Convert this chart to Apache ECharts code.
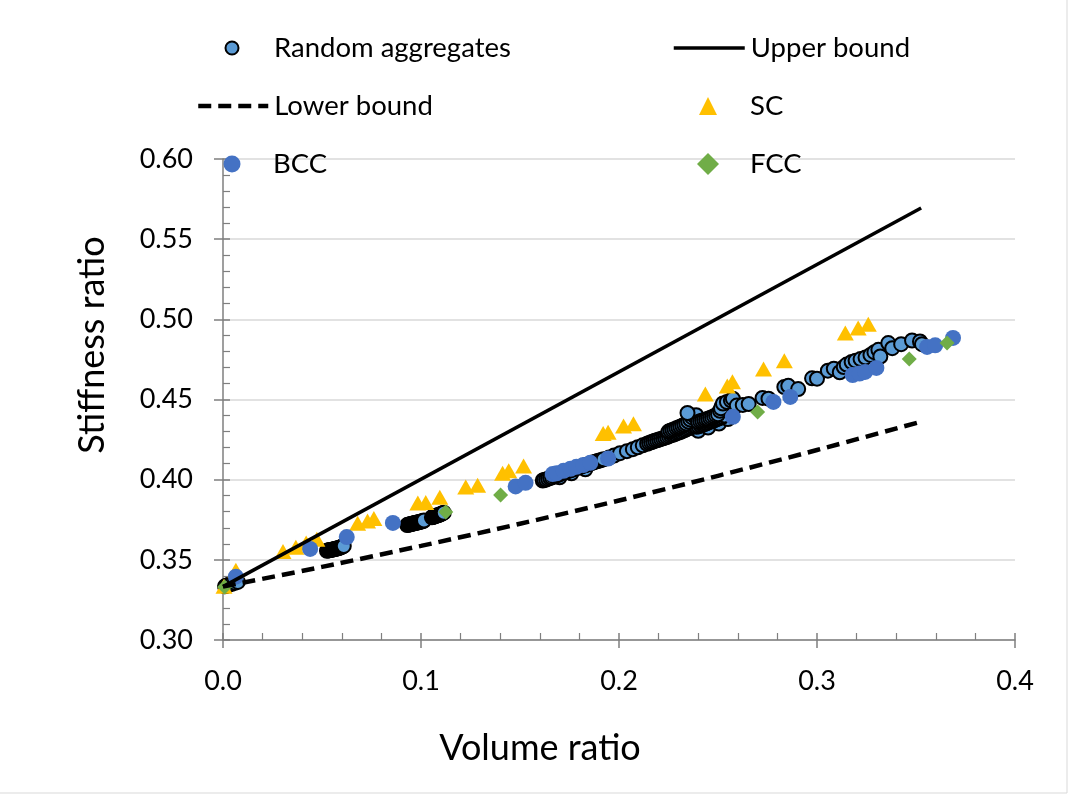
<!DOCTYPE html>
<html><head><meta charset="utf-8">
<script src="https://cdn.jsdelivr.net/npm/echarts@6/dist/echarts.min.js"></script>
<style>html,body{margin:0;padding:0;background:#fff}#c{width:1070px;height:797px}</style>
</head><body><div id="c"></div>
<script>
// ---- data ----
const randomAggregates = [
  // near origin
  [0.001,0.3335],[0.002,0.334],[0.003,0.3345],[0.0045,0.335],[0.006,0.3357],[0.0075,0.3362],
  // cluster ~0.055
  [0.0525,0.3556],[0.0530,0.3558],[0.0535,0.3559],[0.0540,0.3561],[0.0545,0.3562],[0.0550,0.3563],[0.0555,0.3565],
  [0.0560,0.3566],[0.0565,0.3567],[0.0570,0.3569],[0.0575,0.3570],[0.0580,0.3572],[0.0585,0.3574],[0.0590,0.3576],
  [0.0595,0.3578],[0.0600,0.3581],[0.0605,0.3584],[0.0610,0.3587],
  // cluster ~0.1
  [0.0930,0.3717],[0.0935,0.3719],[0.0940,0.3720],[0.0945,0.3722],[0.0950,0.3723],[0.0955,0.3725],[0.0960,0.3726],
  [0.0965,0.3728],[0.0970,0.3729],[0.0975,0.3731],[0.0980,0.3732],[0.0985,0.3734],[0.0990,0.3735],[0.0995,0.3737],
  [0.1000,0.3738],[0.1005,0.3740],[0.1010,0.3742],[0.1015,0.3745],
  [0.1055,0.3765],[0.1060,0.3767],[0.1065,0.3770],[0.1070,0.3772],[0.1075,0.3774],[0.1080,0.3776],[0.1085,0.3778],
  [0.1090,0.3780],[0.1095,0.3782],[0.1100,0.3785],[0.1105,0.3788],[0.1110,0.3791],[0.1115,0.3794],
  // main band, lower edge
  [0.170,0.4015],[0.176,0.404],[0.183,0.4065],[0.240,0.4305],[0.245,0.4325],[0.2505,0.435],[0.255,0.4378],
  // main band 0.16-0.19
  [0.1615,0.3995],[0.1622,0.3998],[0.1632,0.4001],[0.1642,0.4006],[0.1652,0.4011],[0.1662,0.4014],[0.1672,0.4020],
  [0.1682,0.4026],[0.1692,0.4029],[0.1702,0.4035],[0.1712,0.4041],[0.1722,0.4044],[0.1732,0.4049],[0.1742,0.4053],
  [0.1752,0.4057],[0.1762,0.4061],[0.1772,0.4066],[0.1782,0.4070],[0.1792,0.4074],[0.1802,0.4079],[0.1812,0.4083],
  [0.1822,0.4087],[0.1832,0.4091],[0.1842,0.4095],[0.1852,0.4100],[0.1862,0.4104],[0.1872,0.4108],[0.1882,0.4112],
  [0.1892,0.4116],[0.1902,0.4119],[0.1912,0.4123],[0.1922,0.4127],
  // 0.195-0.212
  [0.195,0.4138],[0.1975,0.4150],[0.2005,0.4165],[0.204,0.4178],[0.207,0.419],[0.2095,0.4202],[0.212,0.4214],
  // 0.214-0.253
  [0.2142,0.4224],[0.2152,0.4229],[0.2162,0.4233],[0.2172,0.4238],[0.2182,0.4243],[0.2192,0.4246],[0.2202,0.4250],
  [0.2212,0.4254],[0.2222,0.4258],[0.2232,0.4262],[0.2242,0.4266],[0.2252,0.4271],[0.2262,0.4276],[0.2272,0.4280],
  [0.2282,0.4285],[0.2292,0.4290],[0.2302,0.4294],[0.2312,0.4299],[0.2322,0.4304],[0.2332,0.4309],[0.2342,0.4315],
  [0.2352,0.4320],[0.2362,0.4326],[0.2372,0.4331],[0.2382,0.4336],[0.2392,0.4330],[0.2402,0.4333],[0.2412,0.4338],
  [0.2422,0.4342],[0.2432,0.4347],[0.2442,0.4352],[0.2452,0.4357],[0.2462,0.4362],[0.2472,0.4366],[0.2482,0.4371],
  [0.2492,0.4376],[0.2502,0.4381],[0.2512,0.4386],[0.2522,0.4392],[0.2532,0.4400],
  // band, upper edge
  [0.2250,0.4300],[0.2260,0.4305],[0.2270,0.4310],[0.2280,0.4315],[0.2290,0.4320],[0.2300,0.4325],[0.2310,0.4330],
  [0.2320,0.4336],[0.2330,0.4342],[0.2340,0.4350],[0.2350,0.4362],[0.2360,0.4375],[0.2370,0.4388],[0.2380,0.4398],
  [0.2390,0.4402],[0.2400,0.4360],[0.2410,0.4364],[0.2420,0.4368],[0.2430,0.4372],[0.2440,0.4376],[0.2450,0.4380],
  [0.2460,0.4385],[0.2470,0.4390],[0.2480,0.4395],[0.2490,0.4401],[0.2500,0.4408],[0.2510,0.4430],[0.2520,0.4460],
  [0.2346,0.4416],[0.2515,0.4445],[0.2525,0.4475],[0.2545,0.4485],[0.2565,0.4495],[0.2575,0.4505],
  // 0.26-0.36
  [0.2595,0.4462],[0.2625,0.4466],[0.2655,0.4472],[0.2725,0.451],[0.2755,0.4505],[0.2835,0.4578],[0.2855,0.4585],
  [0.2905,0.4565],[0.2975,0.4632],[0.300,0.463],[0.3055,0.468],[0.3085,0.4692],[0.3115,0.467],[0.3135,0.4702],
  [0.315,0.4718],[0.3175,0.4734],[0.3195,0.4742],[0.322,0.4752],[0.3245,0.4762],[0.327,0.4778],[0.329,0.4795],
  [0.331,0.481],[0.332,0.4768],[0.336,0.4852],[0.338,0.482],[0.3425,0.4845],[0.348,0.4868],[0.352,0.4862],[0.353,0.4845]
];
const upperBound = [[0,0.3333],[0.3526,0.5694]];
const lowerBound = [[0,0.3333],[0.05,0.3456],[0.10,0.3587],[0.15,0.3725],[0.20,0.3870],[0.25,0.4024],[0.30,0.4185],[0.3526,0.4362]];
const scData = [
  [0.0005,0.3335],[0.0065,0.3435],[0.0303,0.3552],[0.0368,0.3578],[0.042,0.3605],[0.0474,0.3628],[0.068,0.3728],
  [0.073,0.3742],[0.0762,0.3758],[0.0984,0.3855],[0.1024,0.3858],[0.1095,0.389],[0.1226,0.3955],[0.1286,0.3965],
  [0.1412,0.404],[0.1443,0.4055],[0.1518,0.4085],[0.192,0.4288],[0.1945,0.4295],[0.2023,0.4335],[0.2073,0.4348],
  [0.2436,0.4535],[0.2547,0.4584],[0.2573,0.461],[0.273,0.469],[0.2835,0.4742],[0.3143,0.4915],[0.3208,0.4946],[0.3259,0.497]
];
const bccData = [
  [0.0065,0.3395],[0.044,0.3568],[0.0625,0.3642],[0.0858,0.373],[0.1478,0.3958],[0.1528,0.398],[0.1665,0.4035],
  [0.1685,0.404],[0.172,0.4055],[0.1755,0.4068],[0.1785,0.408],[0.182,0.4091],[0.1855,0.4105],[0.1945,0.4132],
  [0.2575,0.4392],[0.278,0.4485],[0.2865,0.4516],[0.318,0.4653],[0.3215,0.4662],[0.3243,0.4672],[0.330,0.4697],
  [0.3556,0.4828],[0.3597,0.4838],[0.3687,0.4884]
];
const fccData = [[0.0008,0.333],[0.1125,0.3798],[0.1402,0.3905],[0.27,0.4422],[0.3466,0.4753],[0.3657,0.4852]];
const seriesNames = ['Random aggregates','Upper bound','Lower bound','SC','BCC','FCC'];
const xTitle = 'Volume ratio';
const yTitle = 'Stiffness ratio';

// ---- chart ----
const FONT = 'Lato';
const AX = '#7f7f7f';
const chart = echarts.init(document.getElementById('c'), null, {renderer:'canvas'});
const tickFont = {color:'#000', fontSize:27, fontFamily:FONT};
function xAx(main){
  return {type:'value', min:0, max:0.4, interval:0.1, position:'bottom',
    axisLine:{show:main, onZero:false, lineStyle:{color:AX, width:1.5}},
    axisTick:{show:true, inside:!main, length:main?8:7, lineStyle:{color:AX, width:1.5}},
    minorTick:{show:!main, splitNumber:5, length:7, lineStyle:{color:AX, width:1.2}},
    axisLabel: main ? Object.assign({formatter:v=>v.toFixed(1), margin:28}, tickFont) : {show:false},
    splitLine:{show:false}};
}
function yAx(main){
  return {type:'value', min:0.30, max:0.60, interval:0.05, position:'left',
    axisLine:{show:main, onZero:false, lineStyle:{color:AX, width:1.5}},
    axisTick:{show:true, inside:!main, length:main?9:7, lineStyle:{color:AX, width:1.5}},
    minorTick:{show:!main, splitNumber:5, length:7, lineStyle:{color:AX, width:1.2}},
    axisLabel: main ? Object.assign({formatter:v=>v.toFixed(2), margin:30}, tickFont) : {show:false},
    splitLine:{show:main, lineStyle:{color:'#d9d9d9', width:1.5}}};
}
// symbol legend: box of size s centred on cx, text starting at tx
function lgSym(name, cx, cy, s, tx){
  const left = cx - s/2;
  return {data:[name], left:left, top:cy-14, itemWidth:s, itemHeight:s, padding:0, itemGap:0, selectedMode:false,
    textStyle:{color:'#000', fontSize:27.5, fontFamily:FONT, padding:[0,0,0,tx-(left+s+5)]}};
}
function lgLine(name, x0, x1, cy, lw, dash){
  return {data:[name], left:x0, top:cy-14, itemWidth:x1-x0, itemHeight:14, padding:0, itemGap:0, selectedMode:false,
    itemStyle:{opacity:0}, lineStyle:{color:'#000', width:lw, type:dash, opacity:1},
    textStyle:{color:'#000', fontSize:27.5, fontFamily:FONT, padding:[0,0,0,1]}};
}
chart.setOption({
  animation:false,
  backgroundColor:'#fff',
  grid:{left:223, top:159, width:792, height:481},
  xAxis:[xAx(true), xAx(false)],
  yAxis:[yAx(true), yAx(false)],
  legend:[
    lgSym(seriesNames[0], 231, 48, 13, 273),
    lgLine(seriesNames[1], 672, 743, 48, 3.5, 'solid'),
    lgLine(seriesNames[2], 196, 266, 106, 4.5, [13,7]),
    lgSym(seriesNames[3], 708, 106, 18, 750),
    lgSym(seriesNames[4], 232, 164, 17, 273),
    lgSym(seriesNames[5], 708, 164, 22, 750)
  ],
  graphic:[
    {type:'text', x:540, y:748, style:{text:xTitle, fontSize:36, fontFamily:FONT, fill:'#000', textAlign:'center', textVerticalAlign:'middle'}},
    {type:'text', x:92, y:345, rotation:Math.PI/2, style:{text:yTitle, fontSize:36, fontFamily:FONT, fill:'#000', textAlign:'center', textVerticalAlign:'middle'}},
    {type:'rect', silent:true, shape:{x:-1, y:-1, width:1068, height:794}, style:{fill:'none', stroke:'#d9d9d9', lineWidth:1}}
  ],
  series:[
    {name:seriesNames[0], type:'scatter', data:randomAggregates, symbol:'circle', symbolSize:14,
     itemStyle:{color:'#5b9bd5', borderColor:'#000', borderWidth:2, opacity:1}},
    {name:seriesNames[1], type:'line', data:upperBound, showSymbol:false, symbol:'none',
     lineStyle:{color:'#000', width:3.5}, itemStyle:{color:'#000'}},
    {name:seriesNames[2], type:'line', data:lowerBound, showSymbol:false, symbol:'none', smooth:0.3,
     lineStyle:{color:'#000', width:4.5, type:[13,7]}, itemStyle:{color:'#000'}},
    {name:seriesNames[3], type:'scatter', data:scData, symbol:'triangle', symbolSize:[17,15],
     itemStyle:{color:'#ffc000', opacity:1}},
    {name:seriesNames[4], type:'scatter', data:bccData, symbol:'circle', symbolSize:16,
     itemStyle:{color:'#4472c4', opacity:1}},
    {name:seriesNames[5], type:'scatter', data:fccData, symbol:'diamond', symbolSize:15,
     itemStyle:{color:'#70ad47', opacity:1}}
  ]
});
</script></body></html>
